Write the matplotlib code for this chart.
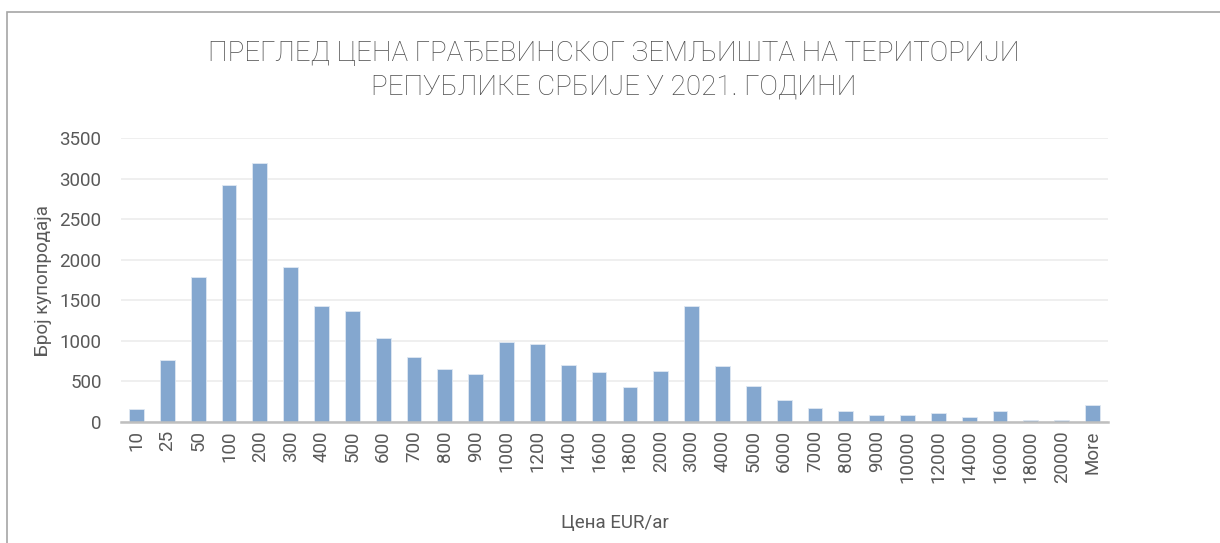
"""
Histogram of building land prices, Serbia 2021
"""

import matplotlib.pyplot as plt
import matplotlib.patches as mpatches
import numpy as np

############### Data ################
price_bins = ["10", "25", "50", "100", "200", "300", "400", "500", "600", "700",
              "800", "900", "1000", "1200", "1400", "1600", "1800", "2000", "3000",
              "4000", "5000", "6000", "7000", "8000", "9000", "10000", "12000",
              "14000", "16000", "18000", "20000", "More"]
counts = [165, 770, 1785, 2917, 3188, 1905, 1432, 1374, 1037, 806,
          650, 597, 983, 967, 708, 617, 436, 634, 1436,
          687, 444, 267, 169, 140, 90, 82, 107,
          58, 136, 29, 21, 214]

title = "ПРЕГЛЕД ЦЕНА ГРАЂЕВИНСКОГ ЗЕМЉИШТА НА ТЕРИТОРИЈИ\nРЕПУБЛИКЕ СРБИЈЕ У 2021. ГОДИНИ"
xlabel = "Цена EUR/ar"
ylabel = "Број купопродаја"

############### Plot ################
plt.rcParams['font.family'] = ['Roboto', 'DejaVu Sans']
txt_col = '#595959'

fig = plt.figure(figsize=(12.2, 5.43), dpi=100)
ax = fig.add_axes([0.0992, 0.2228, 0.8090, 0.5230])

x = np.arange(len(price_bins))
ax.bar(x, counts, width=0.48, color='#84a7cf', edgecolor='#dfe8f3', linewidth=0.6, zorder=3)

ax.set_ylim(0, 3500)
ax.set_xlim(-0.5, len(price_bins) - 0.5)
ax.set_yticks(np.arange(0, 3501, 500))
ax.set_xticks(x)
ax.set_xticklabels(price_bins, rotation=90)
ax.tick_params(axis='both', length=0, colors=txt_col, labelsize=13.5)
ax.tick_params(axis='y', pad=14)
ax.tick_params(axis='x', pad=6)

ax.grid(axis='y', color='#ececec', linewidth=1.2, zorder=0)
for s in ['top', 'right', 'left']:
    ax.spines[s].set_visible(False)
ax.spines['bottom'].set_color('#bfbfbf')
ax.spines['bottom'].set_linewidth(1.8)
ax.spines['bottom'].set_zorder(4)

ax.set_xlabel(xlabel, fontsize=13.5, color=txt_col)
ax.set_ylabel(ylabel, fontsize=13.5, color=txt_col)
ax.yaxis.set_label_coords(-0.070, 0.5)
ax.xaxis.set_label_coords(0.5, -0.324)

fig.text(0.503, 0.871, title, ha='center', va='center', fontsize=20,
         fontweight='light', color='#4d4d4d', linespacing=1.3)

# chart frame (cut off on right/bottom like the screenshot)
fig.patches.append(mpatches.Rectangle((7 / 1220, -0.1), 1.2, 1 - 12 / 543 + 0.1,
                                      transform=fig.transFigure, fill=False,
                                      edgecolor='#a6a6a6', linewidth=1.2))

fig.savefig("out.png", dpi=100)
